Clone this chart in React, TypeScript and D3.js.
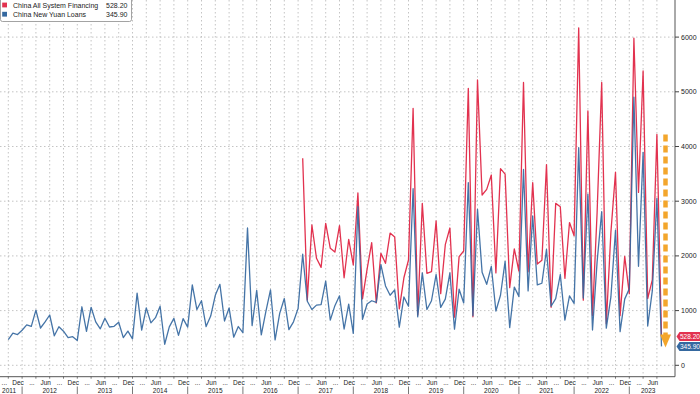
import React from 'react';
import * as d3 from 'd3';

// Monthly series, first point = Sep 2011 (index 0), last = Jul 2023 (index 142)
const START_YEAR = 2011;
const START_MONTH = 8; // September (0-based)

// China New Yuan Loans (CNY bn), Sep 2011 .. Jul 2023
const newYuanLoans: number[] = [
  470, 586.8, 562.2, 640.5,
  738.1, 710.7, 1010, 681.8, 793.2, 919.8, 540.1, 703.9, 623.2, 505.2, 522.9, 454.3,
  1070, 620, 1060, 792.9, 667.4, 860.5, 699.9, 713.5, 787, 506.1, 624.6, 482.5,
  1320, 644.5, 1050, 774.7, 870.8, 1080, 385.2, 702.5, 857.2, 548.3, 852.7, 697.3,
  1470, 1020, 1180, 707.9, 900.8, 1279, 1480, 809.6, 1050, 513.6, 708.9, 597.8,
  2510, 726.6, 1370, 555.6, 985.5, 1380, 463.6, 948.7, 1220, 651.3, 794.6, 1040,
  2030, 1170, 1020, 1100, 1110, 1540, 825.5, 1090, 1270, 663.2, 1120, 584.4,
  2900, 839.3, 1120, 1180, 1150, 1840, 1450, 1280, 1380, 697, 1250, 1080,
  3230, 885.8, 1690, 1020, 1180, 1660, 1060, 1210, 1690, 661.3, 1390, 1140,
  3340, 905.7, 2850, 1700, 1480, 1810, 992.7, 1280, 1900, 689.8, 1430, 1260,
  3580, 1360, 2730, 1470, 1500, 2120, 1080, 1220, 1660, 826.2, 1270, 1130,
  3980, 1230, 3130, 645.4, 1890, 2810, 679, 1250, 2470, 615.2, 1210, 1400,
  4900, 1810, 3890, 718.8, 1360, 3050, 345.9,
];

// China All System Financing (CNY bn), Jan 2017 .. Jul 2023
const FINANCING_START_INDEX = 64; // Jan 2017
const allSystemFinancing: number[] = [
  3784, 1194, 2565, 1956, 1791, 2596, 2139, 2070, 2555, 1600, 2300, 1834,
  3150, 1215, 1760, 2241, 1140, 2047, 1865, 2418, 2345, 1033, 1600, 1925,
  4698, 920, 2961, 1682, 1712, 2638, 1310, 2205, 2510, 880, 1986, 2090,
  5063, 888, 5216, 3113, 3217, 3479, 1690, 3595, 3496, 1420, 2130, 1720,
  5170, 1710, 3340, 1850, 1920, 3670, 1060, 2960, 2900, 1590, 2610, 2370,
  6170, 1190, 4650, 910, 2790, 5170, 760, 2430, 3530, 908, 1990, 1310,
  5980, 3160, 5380, 1220, 1560, 4220, 528.2,
];

const yTicks: number[] = [0, 1000, 2000, 3000, 4000, 5000, 6000];
const monthLabels: Record<number, string> = { 2: '...', 5: 'Jun', 8: '...', 11: 'Dec' };
const years: number[] = [2011, 2012, 2013, 2014, 2015, 2016, 2017, 2018, 2019, 2020, 2021, 2022, 2023];

const legendNames: string[] = ['China All System Financing', 'China New Yuan Loans'];
const legendValues: string[] = ['528.20', '345.90'];

const RED = '#e2324f';
const BLUE = '#35689f';
const ORANGE = '#f3a62c';
const FONT = '"Liberation Sans", Arial, sans-serif';

export default function App() {
  const W = 700;
  const H = 394;
  const plotRight = 675;
  const axisY = 376.7;
  const n = newYuanLoans.length;

  const x = d3.scaleLinear().domain([0, n - 1]).range([8.3, 661.5]);
  const y = d3.scaleLinear().domain([0, 6000]).range([365.3, 37.1]);

  const monthOf = (i: number) => (START_MONTH + i) % 12;
  const yearOf = (i: number) => START_YEAR + Math.floor((START_MONTH + i) / 12);

  const quarterIdx = d3.range(0, n).filter((i) => monthOf(i) % 3 === 2);
  const decIdx = d3.range(0, n).filter((i) => monthOf(i) === 11);

  const line = d3
    .line<number>()
    .x((_, i) => x(i))
    .y((d) => y(d));
  const lineFin = d3
    .line<number>()
    .x((_, i) => x(i + FINANCING_START_INDEX))
    .y((d) => y(d));

  const lastIdx = n - 1;
  const lastFin = allSystemFinancing[allSystemFinancing.length - 1];
  const lastLoan = newYuanLoans[lastIdx];

  // year label spans
  const yearSpans = years.map((yr) => {
    const decPrev = decIdx.find((i) => yearOf(i) === yr - 1);
    const decThis = decIdx.find((i) => yearOf(i) === yr);
    const lo = decPrev !== undefined ? x(decPrev) : -4;
    const hi = decThis !== undefined ? x(decThis) : 667;
    return { yr, cx: (Math.max(lo, -4) + Math.min(hi, 667)) / 2 };
  });

  const tag = (cy: number) =>
    `M${plotRight + 1.5},${cy} L${plotRight + 4.5},${cy - 4.5} L${W + 2},${cy - 4.5} L${W + 2},${cy + 4.5} L${plotRight + 4.5},${cy + 4.5} Z`;

  const arrowX = x(lastIdx) + 4;
  const arrowTop = y(4200) - 1;
  const arrowTipY = y(lastLoan) + 1;

  return (
    <svg
      width={W}
      height={H}
      style={{ position: 'absolute', left: 0, top: 0, background: '#fff', fontFamily: FONT }}
    >
      <rect x={0} y={0} width={W} height={H} fill="#fff" />
      {/* vertical grid */}
      {quarterIdx.map((i) => (
        <line
          key={'vg' + i}
          x1={x(i)}
          x2={x(i)}
          y1={0}
          y2={axisY}
          stroke="#b5b5b5"
          strokeWidth={0.8}
          strokeDasharray="1.5,2.5"
        />
      ))}
      {/* horizontal grid */}
      {yTicks.map((t) => (
        <line
          key={'hg' + t}
          x1={0}
          x2={plotRight}
          y1={y(t)}
          y2={y(t)}
          stroke="#b5b5b5"
          strokeWidth={0.8}
          strokeDasharray="1.5,2.5"
        />
      ))}

      {/* series */}
      <path d={lineFin(allSystemFinancing) || ''} fill="none" stroke={RED} strokeWidth={1.3} strokeLinejoin="round" />
      <path d={line(newYuanLoans) || ''} fill="none" stroke={BLUE} strokeWidth={1.3} strokeLinejoin="round" opacity={0.92} />

      {/* orange arrow */}
      <line
        x1={arrowX}
        x2={arrowX}
        y1={arrowTop}
        y2={arrowTipY - 12}
        stroke={ORANGE}
        strokeWidth={4.5}
        strokeDasharray="7,4"
      />
      <path
        d={`M${arrowX - 5.5},${arrowTipY - 13} L${arrowX + 5.5},${arrowTipY - 13} L${arrowX},${arrowTipY} Z`}
        fill={ORANGE}
      />

      {/* axes */}
      <line x1={plotRight} x2={plotRight} y1={0} y2={axisY} stroke="#555" strokeWidth={1} />
      <line x1={0} x2={plotRight} y1={axisY} y2={axisY} stroke="#555" strokeWidth={1} />

      {/* y ticks */}
      {yTicks.map((t) => (
        <g key={'yt' + t}>
          <line x1={plotRight} x2={plotRight + 4} y1={y(t)} y2={y(t)} stroke="#444" strokeWidth={1} />
          <text x={plotRight + 6} y={y(t) + 2.5} fontSize={7} fill="#222">
            {t}
          </text>
        </g>
      ))}

      {/* x ticks & labels */}
      {quarterIdx.map((i) => (
        <g key={'xt' + i}>
          <line x1={x(i)} x2={x(i)} y1={axisY} y2={axisY + 2} stroke="#555" strokeWidth={0.8} />
          <text x={x(i) - 4} y={385} fontSize={6.5} textAnchor="middle" fill="#222">
            {monthLabels[monthOf(i)]}
          </text>
        </g>
      ))}
      {decIdx.map((i) => (
        <line key={'ys' + i} x1={x(i)} x2={x(i)} y1={386.5} y2={394} stroke="#555" strokeWidth={0.8} />
      ))}
      {yearSpans.map((s) => (
        <text key={'yl' + s.yr} x={s.cx} y={393} fontSize={6.5} textAnchor="middle" fill="#222">
          {s.yr}
        </text>
      ))}

      {/* last value tags */}
      <path d={tag(y(lastFin))} fill={RED} />
      <text x={plotRight + 5} y={y(lastFin) + 2.3} fontSize={6.5} fill="#fff">
        {legendValues[0]}
      </text>
      <path d={tag(y(lastLoan))} fill={BLUE} />
      <text x={plotRight + 5} y={y(lastLoan) + 2.3} fontSize={6.5} fill="#fff">
        {legendValues[1]}
      </text>

      {/* legend */}
      <rect x={0.5} y={-3} width={131} height={24.5} rx={2} fill="#fff" stroke="#8c8c8c" strokeWidth={0.8} />
      {legendNames.map((name, k) => (
        <g key={'lg' + k}>
          <rect x={2.2} y={2.6 + k * 9.2} width={4.8} height={4.8} fill={k === 0 ? RED : BLUE} />
          <text x={13} y={7.7 + k * 9.2} fontSize={7} fill="#222">
            {name}
          </text>
          <text x={127.5} y={7.7 + k * 9.2} fontSize={7} fill="#222" textAnchor="end">
            {legendValues[k]}
          </text>
        </g>
      ))}
    </svg>
  );
}
